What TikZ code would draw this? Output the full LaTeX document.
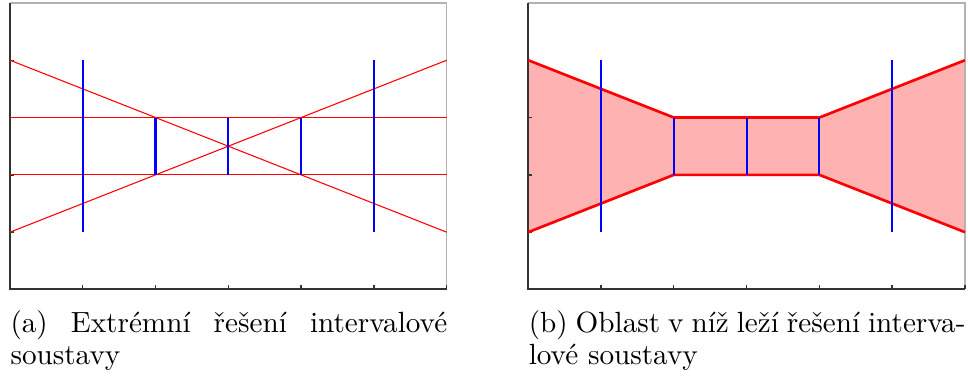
\documentclass[tikz,border=0pt]{standalone}
\usepackage{xcolor}
\usetikzlibrary{positioning, calc}
\tikzset{
    axisline/.style={draw=black!80, line width=0.75pt},
    frameline/.style={draw=black!30, line width=0.5pt},
    tickline/.style={draw=black!80, line width=0.5pt},
    boundline/.style={red, line width=0.4pt},
    regionline/.style={red, line width=1pt},
    regionfill/.style={fill=red!30},
    solline/.style={blue, line width=0.8pt},
    subcap/.style={anchor=north west, inner sep=0pt, text width=163.76pt,
                   align=justify, font=\fontsize{10.95pt}{12.2pt}\selectfont},
    plotunits/.style={x=27.29pt, y=21.49pt},
}

\begin{document}
\begin{tikzpicture}
\useasboundingbox (0,0) rectangle (363pt,141.75pt);
% (a) Extreme solutions: two horizontal and two slanted bounds.
\begin{scope}[shift={(3.75pt,33.2pt)}, plotunits]
  \draw[frameline] (0,5) -- (6,5) -- (6,0);
  \draw[axisline] (0,5) -- (0,0) -- (6,0);
  \foreach \i in {1,...,6} \draw[tickline] (\i,0) -- ++(0,1.5pt);
  \foreach \j in {1,...,4} \draw[tickline] (0,\j) -- ++(1.5pt,0);
  \draw[boundline] (0,3) -- (6,3);
  \draw[boundline] (0,2) -- (6,2);
  \draw[boundline] (0,4) -- (6,1);
  \draw[boundline] (0,1) -- (6,4);
  \draw[solline] (1,1) -- (1,4);
  \draw[solline] (2,2) -- (2,3);
  \draw[solline] (3,2) -- (3,3);
  \draw[solline] (4,2) -- (4,3);
  \draw[solline] (5,1) -- (5,4);
\end{scope}
% (b) Region in which the solutions lie.
\begin{scope}[shift={(198.1pt,33.2pt)}, plotunits]
  \coordinate (tl) at (0,4);
  \coordinate (t2) at (2,3);
  \coordinate (t4) at (4,3);
  \coordinate (tr) at (6,4);
  \coordinate (br) at (6,1);
  \coordinate (b4) at (4,2);
  \coordinate (b2) at (2,2);
  \coordinate (bl) at (0,1);
  \fill[regionfill] (tl) -- (t2) -- (t4) -- (tr) -- (br) -- (b4) -- (b2) -- (bl) -- cycle;
  \draw[frameline] (0,5) -- (6,5) -- (6,0);
  \draw[axisline] (0,5) -- (0,0) -- (6,0);
  \foreach \i in {1,...,6} \draw[tickline] (\i,0) -- ++(0,1.5pt);
  \foreach \j in {1,...,4} \draw[tickline] (0,\j) -- ++(1.5pt,0);
  \draw[regionline] (tl) -- (t2) -- (t4) -- (tr);
  \draw[regionline] (bl) -- (b2) -- (b4) -- (br);
  \draw[solline] (1,1) -- (1,4);
  \draw[solline] (t2) -- (b2);
  \draw[solline] (3,2) -- (3,3);
  \draw[solline] (t4) -- (b4);
  \draw[solline] (5,1) -- (5,4);
\end{scope}
% Captions.
\node[subcap] (capa) at (3.75pt,25.6pt) {(a) Extrémní řešení intervalové\linebreak soustavy};
\node[subcap] (capb) at (198.1pt,25.6pt) {(b) Oblast v níž leží řešení interva\-lové soustavy};
\end{tikzpicture}
\end{document}
